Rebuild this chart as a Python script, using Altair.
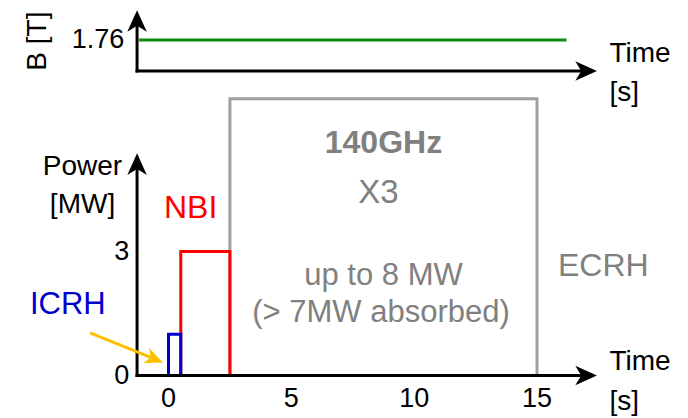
import altair as alt
import pandas as pd

# ---------------- data ----------------
ecrh_time = [2.5, 2.5, 15, 15]
ecrh_power = [0, 6.7, 6.7, 0]
nbi_time = [0.5, 0.5, 2.5, 2.5]
nbi_power = [0, 3, 3, 0]
icrh_time = [0, 0, 0.5, 0.5]
icrh_power = [0, 1, 1, 0]
b_time = [-1.2, 16.2]
b_field = [1.76, 1.76]

time_ticks = [0, 5, 10, 15]
time_tick_labels = ["0", "5", "10", "15"]
power_ticks = [0, 3]
power_tick_labels = ["0", "3"]
b_ticks = [1.76]
b_tick_labels = ["1.76"]

# ---------------- layout / style ----------------
W, H = 672, 408
FONT = "Liberation Sans"
BLACK = "#000000"
GRAY_TXT = "#808080"
GRAY_LINE = "#a0a0a0"
ARROW = "M0,-1L0.9,1L0,0.45L-0.9,1Z"

# pixel geometry of the schematic (plot-area pixels)
T0_PX, T_PPS = 160.5, 24.567     # where t=0 sits, pixels per second
P0_PX, P_PPU = 367.5, 41.3       # where power=0 sits, pixels per MW
B0_PX, B_PPU = 63.0, 17.61       # where B=0 sits, pixels per tesla

x_scale = alt.Scale(domain=[-T0_PX / T_PPS, (W - T0_PX) / T_PPS], nice=False, zero=False)
p_scale = alt.Scale(domain=[(P0_PX - H) / P_PPU, P0_PX / P_PPU], nice=False, zero=False)
b_scale = alt.Scale(domain=[(B0_PX - H) / B_PPU, B0_PX / B_PPU], nice=False, zero=False)

AX0 = -1.28        # time where the drawn y axes stand
AX_END = 17.0      # end of the drawn time axes (arrow centre)
P_TOP = 5.12       # top of power axis (arrow centre)
B_TOP = 2.84       # top of B axis (arrow centre)


def X(f="x"):
    return alt.X(f + ":Q", scale=x_scale, axis=None)


def Y(scale, f="y"):
    return alt.Y(f + ":Q", scale=scale, axis=None)


def step_line(ts, ps, color):
    df = pd.DataFrame({"x": ts, "y": ps, "o": list(range(len(ts)))})
    return alt.Chart(df).mark_line(color=color, strokeWidth=3, strokeJoin="miter").encode(
        x=X(), y=Y(p_scale), order="o:Q")


def labels(texts, xs, ys, scale, **mark):
    df = pd.DataFrame({"label": texts, "x": xs, "y": ys})
    return alt.Chart(df).mark_text(font=FONT, **mark).encode(
        x=X(), y=Y(scale), text="label:N")


def frame(scale, top):
    df = pd.DataFrame({"x": [AX0, AX0], "x2": [AX_END, AX0], "y": [0, 0], "y2": [0, top]})
    rules = alt.Chart(df).mark_rule(color=BLACK, strokeWidth=3, strokeCap="square").encode(
        x=X(), x2="x2:Q", y=Y(scale), y2="y2:Q")
    adf = pd.DataFrame({"x": [AX_END, AX0], "y": [0, top], "a": [90, 0]})
    heads = alt.Chart(adf).mark_point(shape=ARROW, filled=True, color=BLACK, size=470, opacity=1).encode(
        x=X(), y=Y(scale), angle=alt.Angle("a:Q", scale=None))
    return rules + heads


# ---------------- top panel: B field ----------------
b_df = pd.DataFrame({"x": b_time, "y": b_field})
b_line = alt.Chart(b_df).mark_line(color="#118a11", strokeWidth=3).encode(x=X(), y=Y(b_scale))

top = alt.layer(
    b_line,
    frame(b_scale, B_TOP),
    labels(b_tick_labels, [-1.8] * len(b_ticks), b_ticks, b_scale,
           fontSize=27, align="right", baseline="middle", color=BLACK),
    labels(["B [T]"], [-5.3], [1.7], b_scale,
           fontSize=28, align="center", baseline="middle", angle=270, color=BLACK),
    labels(["Time", "[s]"], [17.95, 17.95], [0.97, -1.25], b_scale,
           fontSize=28, align="left", baseline="middle", color=BLACK),
)

# ---------------- bottom panel: heating power ----------------
arrow_df = pd.DataFrame({"x": [-3.19], "y": [1.03], "x2": [-0.6], "y2": [0.41]})
icrh_arrow = alt.Chart(arrow_df).mark_rule(color="#ffc000", strokeWidth=3).encode(
    x=X(), x2="x2:Q", y=Y(p_scale), y2="y2:Q")
icrh_head = alt.Chart(pd.DataFrame({"x": [-0.57], "y": [0.40]})).mark_point(
    shape=ARROW, filled=True, color="#ffc000", size=330, opacity=1, angle=112).encode(
    x=X(), y=Y(p_scale))

bottom = alt.layer(
    step_line(ecrh_time, ecrh_power, GRAY_LINE),
    step_line(nbi_time, nbi_power, "#ff0000"),
    step_line(icrh_time, icrh_power, "#0000cc"),
    frame(p_scale, P_TOP),
    icrh_arrow,
    icrh_head,
    labels(time_tick_labels, time_ticks, [-0.58] * len(time_ticks), p_scale,
           fontSize=27, align="center", baseline="middle", color=BLACK),
    labels(power_tick_labels, [-1.6] * len(power_ticks), power_ticks, p_scale,
           fontSize=27, align="right", baseline="middle", color=BLACK),
    labels(["Power", "[MW]"], [-3.5, -3.5], [5.05, 4.13], p_scale,
           fontSize=28, align="center", baseline="middle", color=BLACK),
    labels(["Time", "[s]"], [17.95, 17.95], [0.33, -0.64], p_scale,
           fontSize=28, align="left", baseline="middle", color=BLACK),
    labels(["NBI"], [0.9], [4.06], p_scale,
           fontSize=32, align="center", baseline="middle", color="#ff0000"),
    labels(["ICRH"], [-4.1], [1.71], p_scale,
           fontSize=31, align="center", baseline="middle", color="#0000cc"),
    labels(["140GHz"], [8.75], [5.63], p_scale,
           fontSize=32, fontWeight="bold", align="center", baseline="middle", color=GRAY_TXT),
    labels(["X3"], [8.55], [4.42], p_scale,
           fontSize=33, align="center", baseline="middle", color=GRAY_TXT),
    labels(["up to 8 MW", "(> 7MW absorbed)"], [8.75, 8.65], [2.4, 1.52], p_scale,
           fontSize=31, align="center", baseline="middle", color=GRAY_TXT),
    labels(["ECRH"], [17.7], [2.65], p_scale,
           fontSize=32, align="center", baseline="middle", color=GRAY_TXT),
)

chart = alt.layer(top, bottom).resolve_scale(y="independent").properties(
    width=W, height=H, padding=0,
    autosize=alt.AutoSizeParams(type="none"),
).configure_view(strokeWidth=0)

chart.save("out.html", embed_options={"renderer": "svg", "actions": False})
